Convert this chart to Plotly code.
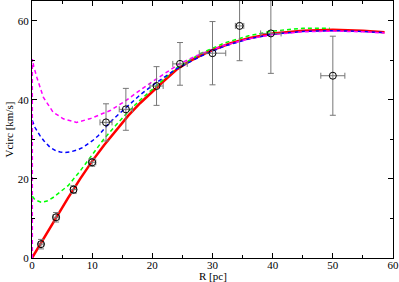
import plotly.graph_objects as go

# Observed points
obs_r = [1.5, 4.0, 6.9, 10.0, 12.3, 15.6, 20.7, 24.6, 30.0, 34.5, 39.7, 50.0]
obs_v = [3.5, 10.3, 17.3, 24.2, 34.3, 37.6, 43.5, 49.1, 51.8, 58.7, 56.8, 46.1]
obs_verr = [1.2, 1.2, 1.0, 1.0, 4.7, 5.3, 4.9, 5.4, 8.0, 8.8, 10.1, 10.0]
obs_rerr = [0.4, 0.5, 0.5, 0.6, 1.0, 1.1, 1.1, 1.2, 2.2, 0.7, 1.7, 2.0]

# Model curves
red_r = [0, 2, 4, 6, 8, 10, 12, 14, 16, 18, 20, 22, 24, 26, 28, 30, 33, 36, 40, 45, 50, 55, 58.6]
red_v = [0, 5.1, 10.2, 15.2, 20.0, 24.5, 28.6, 32.4, 36.0, 39.2, 42.1, 44.9, 47.6, 49.6, 51.2, 52.6, 54.3, 55.6, 56.8, 57.5, 57.7, 57.5, 57.1]

green_r = [0.05, 0.5, 1.5, 2.5, 3.5, 5, 6, 8, 10, 12, 14, 16, 18, 20, 24, 28, 32, 36, 40, 45, 49.5]
green_v = [15.6, 14.7, 14.1, 14.4, 15.3, 17.0, 18.3, 22.0, 26.2, 30.2, 33.7, 37.0, 40.0, 42.7, 48.0, 51.7, 54.4, 56.2, 57.4, 58.1, 58.1]

blue_r = [0.05, 0.5, 1.3, 2, 3, 4, 4.7, 5.5, 6.3, 7.5, 8.5, 10, 11, 12.7, 14, 15.7, 18, 20.7, 24, 28, 32, 36, 40, 45, 50, 55, 58.6]
blue_v = [34.8, 33.0, 31.0, 29.6, 28.0, 27.1, 26.8, 26.7, 26.8, 27.3, 28.0, 29.6, 30.9, 33.9, 35.8, 38.1, 41.3, 44.4, 47.8, 51.0, 53.6, 55.4, 56.6, 57.3, 57.5, 57.3, 57.0]

mag_r = [0.05, 0.05, 0.3, 0.8, 1.9, 3.5, 5.2, 7.4, 9.6, 11.8, 13, 15.6, 18, 20.7, 24.6, 28, 32, 36, 40, 45, 50, 55, 58.6]
mag_v = [0, 50.3, 48.4, 45.7, 40.6, 36.9, 35.2, 34.3, 35.2, 36.6, 37.3, 39.8, 42.5, 45.3, 49.2, 51.6, 53.8, 55.4, 56.5, 57.2, 57.4, 57.2, 56.9]

x_ticks = [0, 10, 20, 30, 40, 50, 60]
y_ticks = [0, 20, 40, 60]

fig = go.Figure()
fig.add_trace(go.Scatter(x=red_r, y=red_v, mode="lines",
                         line=dict(color="#ff0000", width=2.5)))
fig.add_trace(go.Scatter(x=green_r, y=green_v, mode="lines",
                         line=dict(color="#00ff00", width=1.5, dash="4px,3px")))
fig.add_trace(go.Scatter(x=blue_r, y=blue_v, mode="lines",
                         line=dict(color="#0000ff", width=1.5, dash="4px,3px")))
fig.add_trace(go.Scatter(x=mag_r, y=mag_v, mode="lines",
                         line=dict(color="#ff00ff", width=1.5, dash="4px,3px")))
fig.add_trace(go.Scatter(
    x=obs_r, y=obs_v, mode="markers",
    marker=dict(symbol="circle-open", size=7, color="black", line=dict(width=1, color="black")),
    error_y=dict(type="data", array=obs_verr, color="#777777", thickness=1, width=3),
    error_x=dict(type="data", array=obs_rerr, color="#777777", thickness=1, width=3),
))

font = dict(family="Liberation Serif, Times New Roman, serif", size=11, color="black")
axis_common = dict(showgrid=False, zeroline=False, showline=True, linecolor="black",
                   linewidth=1, mirror="ticks", ticks="inside", ticklen=5,
                   tickcolor="black", tickfont=font, automargin=False,
                   ticklabeloverflow="allow")
fig.update_layout(
    width=399, height=282,
    margin=dict(l=32, r=6, t=1, b=24),
    paper_bgcolor="white", plot_bgcolor="white",
    showlegend=False, font=font,
    xaxis=dict(range=[0, 60], tickvals=x_ticks, ticklabelstandoff=-3,
               minor=dict(ticks="inside", ticklen=3, dtick=5, tickcolor="black"), **axis_common),
    yaxis=dict(range=[0, 65], tickvals=y_ticks,
               minor=dict(ticks="inside", ticklen=3, dtick=10, tickcolor="black"), **axis_common),
    annotations=[
        dict(text="R [pc]", xref="paper", yref="paper", x=0.5, y=0, yshift=-10,
             xanchor="center", yanchor="top", showarrow=False, font=font),
        dict(text="Vcirc [km/s]", xref="paper", yref="paper", x=0, xshift=-24, y=0.5,
             xanchor="center", yanchor="middle", textangle=-90, showarrow=False, font=font),
    ],
)
fig.write_html("out.html", config={"displayModeBar": False},
               post_script="document.body.style.margin='0';document.body.style.padding='0';")
